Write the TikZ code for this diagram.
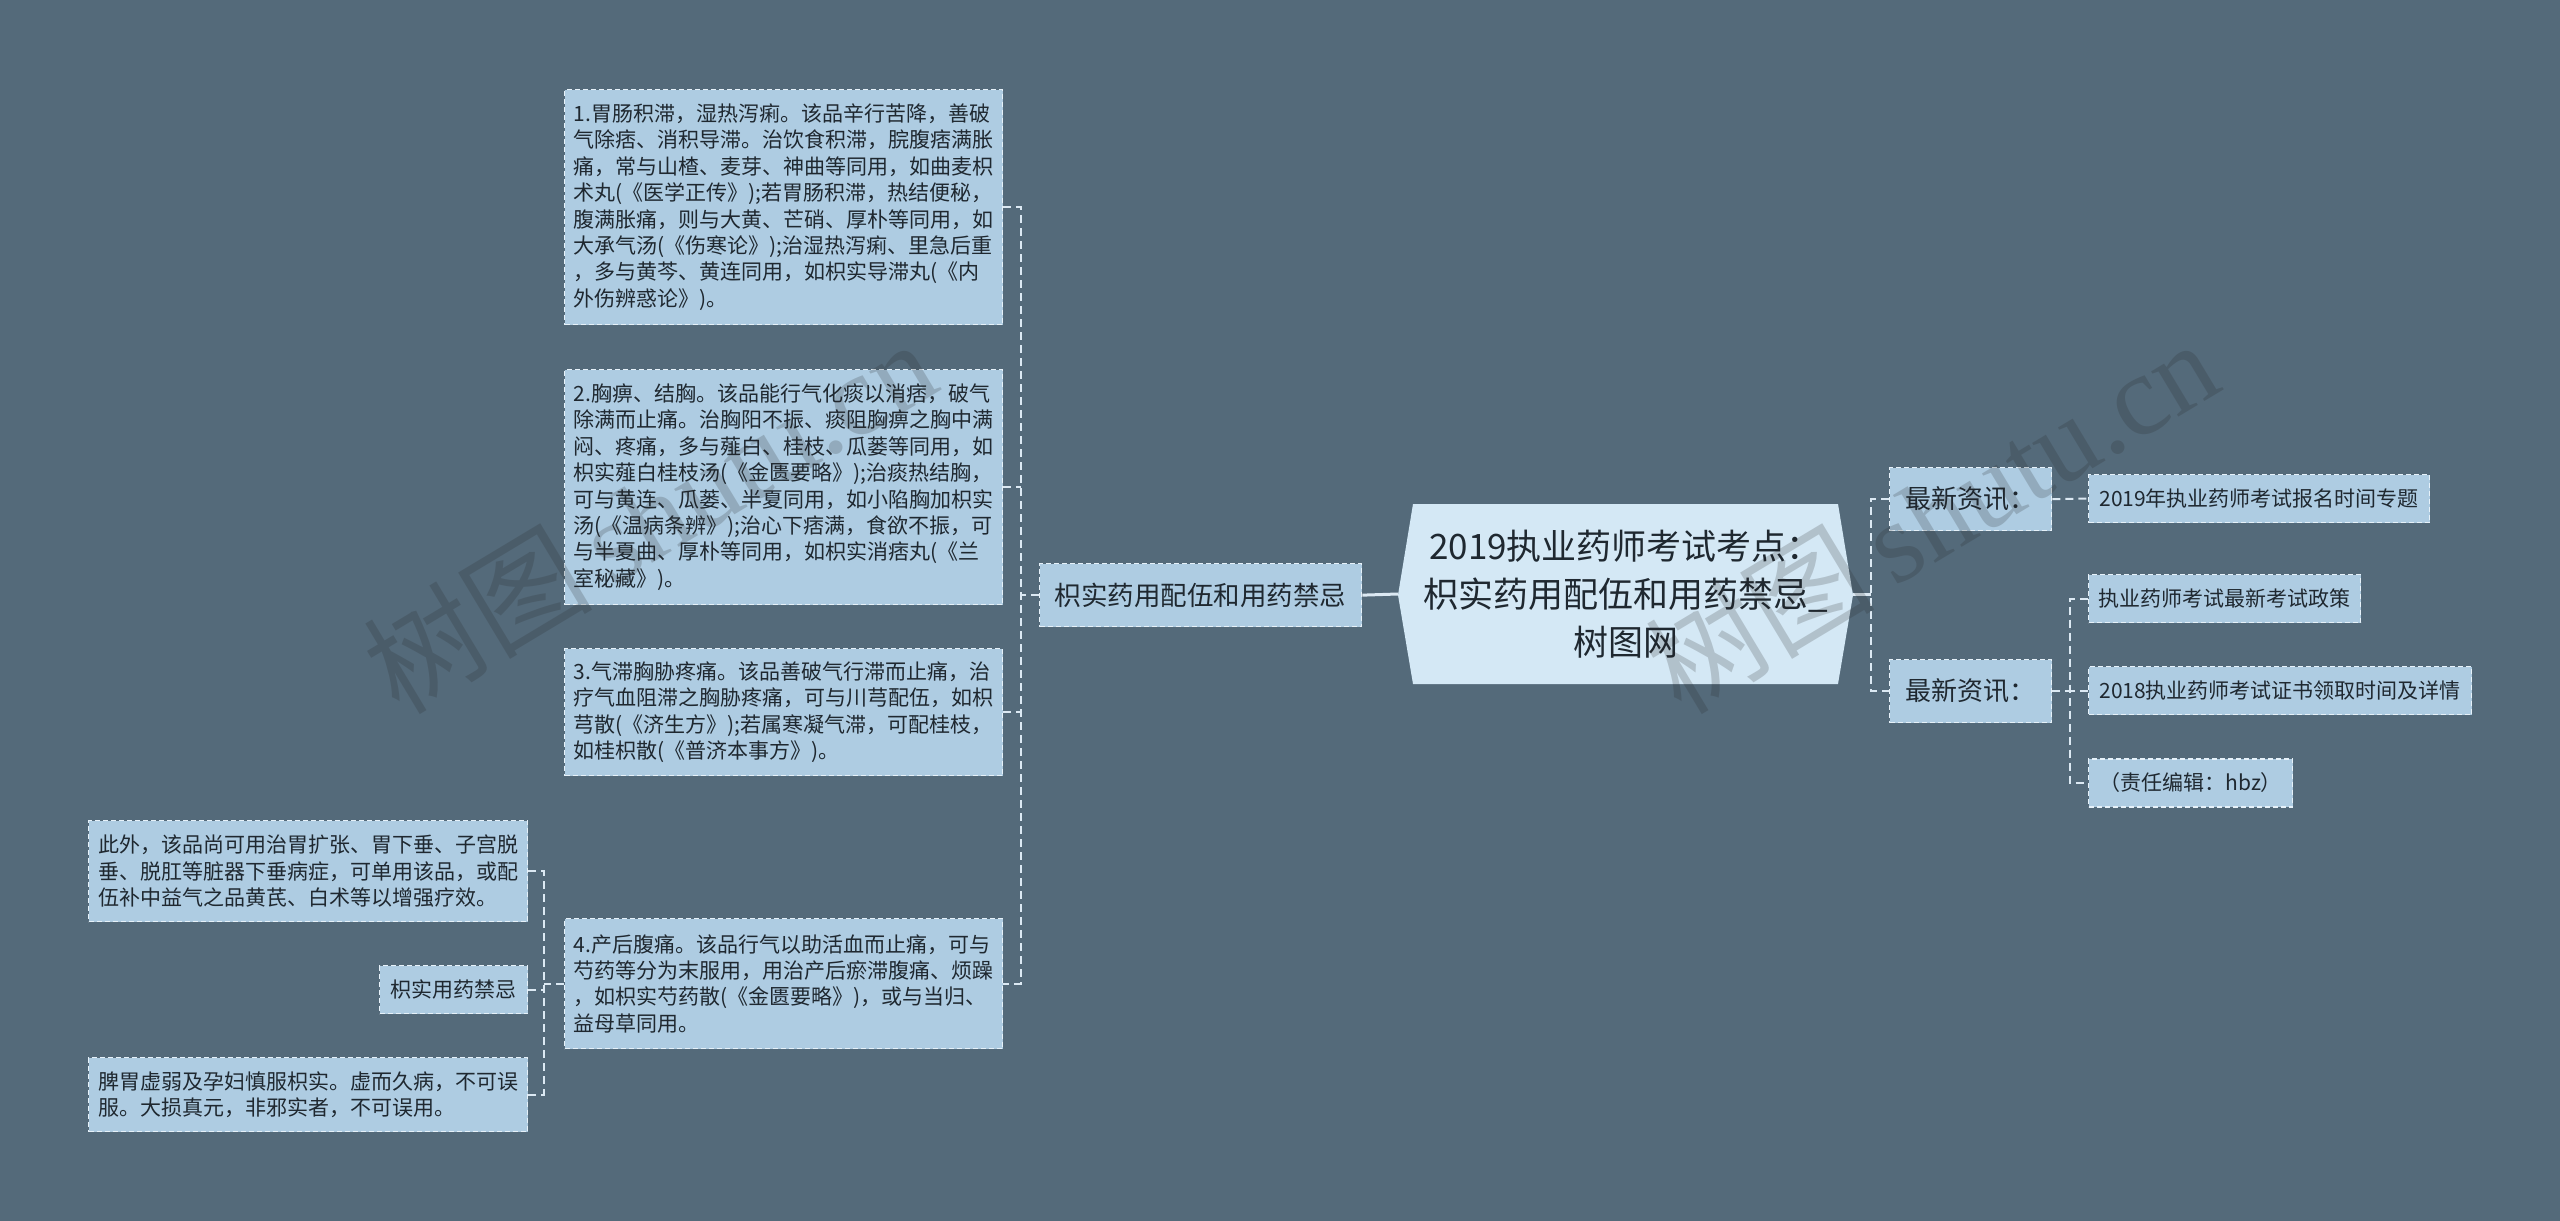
\documentclass[tikz,border=0pt]{standalone}
\usepackage{fontspec}
\setmainfont{Noto Sans CJK SC}
\newfontfamily\wmserif{Liberation Serif}
\newfontfamily\wmcjk{Noto Sans CJK SC}
\definecolor{bgc}{HTML}{546A7A}
\definecolor{boxfill}{HTML}{AECCE2}
\definecolor{ctrfill}{HTML}{D4E8F5}
\definecolor{boxline}{HTML}{E6F1F9}
\definecolor{connc}{HTML}{DCE9F3}
\definecolor{txt}{HTML}{1F2830}
\tikzset{
  box/.style={draw=boxline, fill=boxfill, line width=1.3pt, dash pattern=on 5pt off 3pt, inner sep=0pt, text=txt},
  bigtext/.style={align=left, font=\fontsize{21}{26.4}\selectfont},
  lefttext/.style={align=left, font=\fontsize{21}{26.6}\selectfont},
  leaf/.style={box, anchor=west, inner xsep=10pt, minimum height=48pt, font=\fontsize{21}{25}\selectfont},
  news/.style={box, anchor=north west, minimum width=162pt, minimum height=63pt, font=\fontsize{26}{30}\selectfont},
  conn/.style={draw=connc, line width=2pt, dash pattern=on 8pt off 5pt},
  solidc/.style={draw=connc, line width=3pt},
  wm/.style={text=black!85, opacity=0.2, rotate=31}
}
\begin{document}
\begin{tikzpicture}[x=1pt,y=-1pt]
\fill[bgc] (0,0) rectangle (2560,1221);
\useasboundingbox (0,0) rectangle (2560,1221);

% left column of detail boxes
\node[box, bigtext, anchor=north west, minimum width=438pt, minimum height=235pt] (b1) at (564,89) {1.胃肠积滞，湿热泻痢。该品辛行苦降，善破\\气除痞、消积导滞。治饮食积滞，脘腹痞满胀\\痛，常与山楂、麦芽、神曲等同用，如曲麦枳\\术丸(《医学正传》);若胃肠积滞，热结便秘，\\腹满胀痛，则与大黄、芒硝、厚朴等同用，如\\大承气汤(《伤寒论》);治湿热泻痢、里急后重\\，多与黄芩、黄连同用，如枳实导滞丸(《内\\外伤辨惑论》)。};
\node[box, bigtext, anchor=north west, minimum width=438pt, minimum height=235pt] (b2) at (564,369) {2.胸痹、结胸。该品能行气化痰以消痞，破气\\除满而止痛。治胸阳不振、痰阻胸痹之胸中满\\闷、疼痛，多与薤白、桂枝、瓜蒌等同用，如\\枳实薤白桂枝汤(《金匮要略》);治痰热结胸，\\可与黄连、瓜蒌、半夏同用，如小陷胸加枳实\\汤(《温病条辨》);治心下痞满，食欲不振，可\\与半夏曲、厚朴等同用，如枳实消痞丸(《兰\\室秘藏》)。};
\node[box, bigtext, anchor=north west, minimum width=438pt, minimum height=127pt] (b3) at (564,648) {3.气滞胸胁疼痛。该品善破气行滞而止痛，治\\疗气血阻滞之胸胁疼痛，可与川芎配伍，如枳\\芎散(《济生方》);若属寒凝气滞，可配桂枝，\\如桂枳散(《普济本事方》)。};
\node[box, bigtext, anchor=north west, minimum width=438pt, minimum height=130pt] (b4) at (564,918) {4.产后腹痛。该品行气以助活血而止痛，可与\\芍药等分为末服用，用治产后瘀滞腹痛、烦躁\\，如枳实芍药散(《金匮要略》)，或与当归、\\益母草同用。};

% far-left boxes
\node[box, lefttext, anchor=north west, minimum width=439pt, minimum height=101pt] (c1) at (88,820) {此外，该品尚可用治胃扩张、胃下垂、子宫脱\\垂、脱肛等脏器下垂病症，可单用该品，或配\\伍补中益气之品黄芪、白术等以增强疗效。};
\node[box, anchor=north west, minimum width=148pt, minimum height=48pt, font=\fontsize{21}{25}\selectfont] (c2) at (379,965) {枳实用药禁忌};
\node[box, lefttext, anchor=north west, minimum width=439pt, minimum height=74pt] (c3) at (88,1057) {脾胃虚弱及孕妇慎服枳实。虚而久病，不可误\\服。大损真元，非邪实者，不可误用。};

% middle node
\node[box, anchor=north west, minimum width=322pt, minimum height=63pt, font=\fontsize{26.5}{30}\selectfont] (mid) at (1039,563) {枳实药用配伍和用药禁忌};

% center node
\fill[ctrfill] (1413,504) -- (1838,504) -- (1853,595) -- (1838,684) -- (1413,684) -- (1398,595) -- cycle;
\node[inner sep=0pt, minimum width=455pt, minimum height=180pt, align=center, text=txt, font=\fontsize{35}{48}\selectfont] (ctr) at (1625.5,594) {2019执业药师考试考点：\\枳实药用配伍和用药禁忌\_\\树图网};

% right side
\node[news] (r1) at (1889,467) {最新资讯：};
\node[news] (r2) at (1889,659) {最新资讯：};
\node[leaf, minimum width=341pt] (l1) at (2088,498.5) {2019年执业药师考试报名时间专题};
\node[leaf, minimum width=272pt] (l2) at (2088,598.5) {执业药师考试最新考试政策};
\node[leaf, minimum width=383pt] (l3) at (2088,690.5) {2018执业药师考试证书领取时间及详情};
\node[leaf, minimum width=204pt] (l4) at (2088,783) {（责任编辑：hbz）};

% connectors
\coordinate (jL) at (1021,595);
\coordinate (jB) at (544,983);
\coordinate (jR) at (1871,595);
\coordinate (jS) at (2070,690);

\draw[conn] (b1.east) -- (b1.east -| jL) -- (b4.east -| jL) -- (b4.east);
\draw[conn] (b2.east) -- (b2.east -| jL);
\draw[conn] (b3.east) -- (b3.east -| jL);
\draw[conn] (mid.west) -- (mid.west -| jL);

\draw[conn] (c1.east) -- (c1.east -| jB) -- (c3.east -| jB) -- (c3.east);
\draw[conn] (c2.east) -- (c2.east -| jB);
\draw[conn] (b4.west) -- (b4.west -| jB);

\draw[solidc] (mid.east) -- (ctr.west);
\draw[solidc] (ctr.east) -- (ctr.east -| jR);
\draw[conn] (r1.west) -- (r1.west -| jR) -- (r2.west -| jR) -- (r2.west);

\draw[conn] (r1.east) -- (l1.west);
\draw[conn] (r2.east) -- (r2.east -| jS);
\draw[conn] (l2.west) -- (l2.west -| jS) -- (l4.west -| jS) -- (l4.west);
\draw[conn] (l3.west) -- (l3.west -| jS);

% watermarks
\node[wm] (wm1) at (649,515) {\fontsize{115}{120}\selectfont\wmcjk 树图\,\wmserif shutu.cn};
\node[wm] (wm2) at (1931,515) {\fontsize{115}{120}\selectfont\wmcjk 树图\,\wmserif shutu.cn};
\end{tikzpicture}
\end{document}
